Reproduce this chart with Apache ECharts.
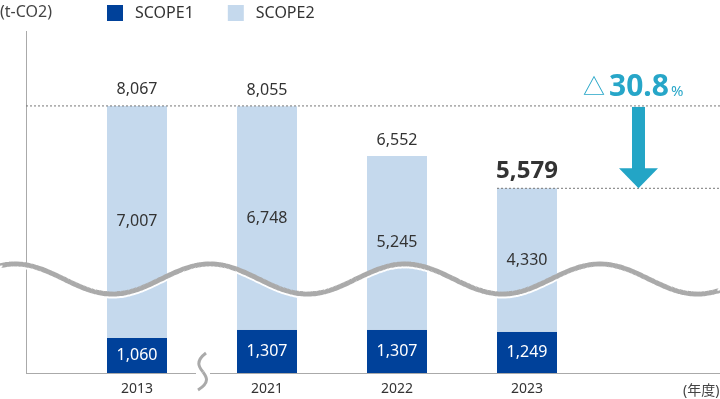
<!DOCTYPE html>
<html>
<head>
<meta charset="utf-8">
<script src="https://cdn.jsdelivr.net/npm/echarts@6/dist/echarts.min.js"></script>
<style>
    html, body { margin: 0; padding: 0; background: #fff; }
    #main { width: 720px; height: 399px; }
</style>
</head>
<body>
<div id="main"></div>
<script>
    var years = ['2013', '2021', '2022', '2023'];
    var scope1 = [1060, 1307, 1307, 1249];
    var scope2 = [7007, 6748, 5245, 4330];
    var totals = [8067, 8055, 6552, 5579];
    var reduction = '30.8';

    var FONT = '"Noto Sans", "Noto Sans CJK JP", sans-serif';
    var chart = echarts.init(document.getElementById('main'));

    function fmt(v) {
        return v.toLocaleString('en-US');
    }

    var totalData = totals.map(function (v, i) {
        var item = { value: v };
        if (i === totals.length - 1) {
            item.label = { fontSize: 24, fontWeight: 'bold', color: '#333', distance: 5 };
        }
        return item;
    });

    chart.setOption({
        animation: false,
        textStyle: { fontFamily: FONT },
        legend: {
            left: 107,
            top: 5,
            padding: 0,
            itemWidth: 16,
            itemHeight: 16,
            itemGap: 34,
            icon: 'rect',
            textStyle: { fontSize: 16, color: '#333', fontFamily: FONT, padding: [0, 0, 0, 7] },
            data: ['SCOPE1', 'SCOPE2']
        },
        grid: { left: 72, right: 128, top: 32, bottom: 26 },
        xAxis: {
            type: 'category',
            data: years,
            axisLine: { show: false },
            axisTick: { show: false },
            axisLabel: { color: '#333', fontSize: 14, margin: 9, fontFamily: FONT }
        },
        yAxis: {
            type: 'value',
            min: 0,
            max: 10300,
            show: false
        },
        series: [{
            name: 'SCOPE1',
            type: 'bar',
            stack: 'total',
            barWidth: 60,
            itemStyle: { color: '#00419a' },
            label: {
                show: true, position: 'inside', color: '#fff', fontSize: 16, fontFamily: FONT,
                formatter: function (p) { return fmt(p.value); }
            },
            data: scope1
        }, {
            name: 'SCOPE2',
            type: 'bar',
            stack: 'total',
            barWidth: 60,
            itemStyle: { color: '#c5d9ed' },
            label: {
                show: true, position: 'inside', color: '#333', fontSize: 16, fontFamily: FONT,
                formatter: function (p) { return fmt(p.value); }
            },
            data: scope2
        }, {
            name: 'total',
            type: 'scatter',
            symbolSize: 0,
            silent: true,
            itemStyle: { opacity: 1 },
            label: {
                show: true, position: 'top', distance: 8, color: '#333', fontSize: 16, fontFamily: FONT,
                formatter: function (p) { return fmt(p.value); }
            },
            data: totalData
        }]
    });

    // decorations: axes, dotted guides, arrow, wave
    var yTop = chart.convertToPixel({ yAxisIndex: 0 }, totals[0]);
    var yLast = chart.convertToPixel({ yAxisIndex: 0 }, totals[totals.length - 1]);
    var yBase = chart.convertToPixel({ yAxisIndex: 0 }, 0);
    var xLast = chart.convertToPixel({ xAxisIndex: 0 }, years.length - 1);

    var wavePts = [], waveShadow = [];
    for (var x = 0; x <= 720; x += 4) {
        var wy = 279 - 15 * Math.cos((x - 210) / 195 * 2 * Math.PI);
        wavePts.push([x, wy]);
        waveShadow.push([x, wy + 2]);
    }

    chart.setOption({
        graphic: [
            { type: 'line', shape: { x1: 26.5, y1: 31, x2: 26.5, y2: yBase }, style: { stroke: '#aaa', lineWidth: 1 }, z: 5 },
            { type: 'line', shape: { x1: 26, y1: yBase + 0.5, x2: 720, y2: yBase + 0.5 }, style: { stroke: '#aaa', lineWidth: 1 }, z: 5 },
            { type: 'line', shape: { x1: 26, y1: yTop, x2: 720, y2: yTop }, style: { stroke: '#777', lineWidth: 1, lineDash: [2, 2] }, z: 5 },
            { type: 'line', shape: { x1: xLast - 30, y1: yLast, x2: 720, y2: yLast }, style: { stroke: '#777', lineWidth: 1, lineDash: [2, 2] }, z: 5 },
            { type: 'rect', shape: { x: 632, y: yTop + 1, width: 13, height: yLast - 20 - yTop }, style: { fill: '#23a5c6' }, z: 6 },
            { type: 'polygon', shape: { points: [[619, yLast - 20], [658, yLast - 20], [638.5, yLast]] }, style: { fill: '#23a5c6' }, z: 6 },
            {
                type: 'text', x: 583, y: 72, z: 6,
                style: {
                    text: '{a|△}{b|' + reduction + '}{c|%}',
                    rich: {
                        a: { fontSize: 22, fill: '#27a6c8', fontFamily: FONT, padding: [2, 4, 0, 0] },
                        b: { fontSize: 30, fontWeight: 'bold', fill: '#27a6c8', fontFamily: FONT },
                        c: { fontSize: 15, fill: '#27a6c8', fontFamily: FONT, padding: [10, 0, 0, 2] }
                    }
                }
            },
            { type: 'text', x: 0, y: 4, z: 6, style: { text: '(t-CO2)', fontSize: 16, fill: '#444', fontFamily: FONT } },
            { type: 'text', x: 683, y: 384, z: 6, style: { text: '(年度)', fontSize: 14, fill: '#444', fontFamily: FONT } },
            { type: 'polyline', shape: { points: waveShadow, smooth: true }, style: { stroke: '#fff', lineWidth: 5, fill: null }, z: 20 },
            { type: 'polyline', shape: { points: wavePts, smooth: true }, style: { stroke: '#aaa', lineWidth: 5, fill: null }, z: 21 },
            { type: 'rect', shape: { x: 196, y: 371, width: 14, height: 4 }, style: { fill: '#fff' }, z: 21 },
            {
                type: 'bezierCurve', z: 22,
                shape: { x1: 206, y1: 353, cpx1: 194, cpy1: 362, cpx2: 200, cpy2: 368, x2: 203, y2: 372 },
                style: { stroke: '#aaa', lineWidth: 3, fill: null }
            },
            {
                type: 'bezierCurve', z: 22,
                shape: { x1: 203, y1: 372, cpx1: 206, cpy1: 376, cpx2: 211, cpy2: 382, x2: 198, y2: 390 },
                style: { stroke: '#aaa', lineWidth: 3, fill: null }
            }
        ]
    });
</script>
</body>
</html>
